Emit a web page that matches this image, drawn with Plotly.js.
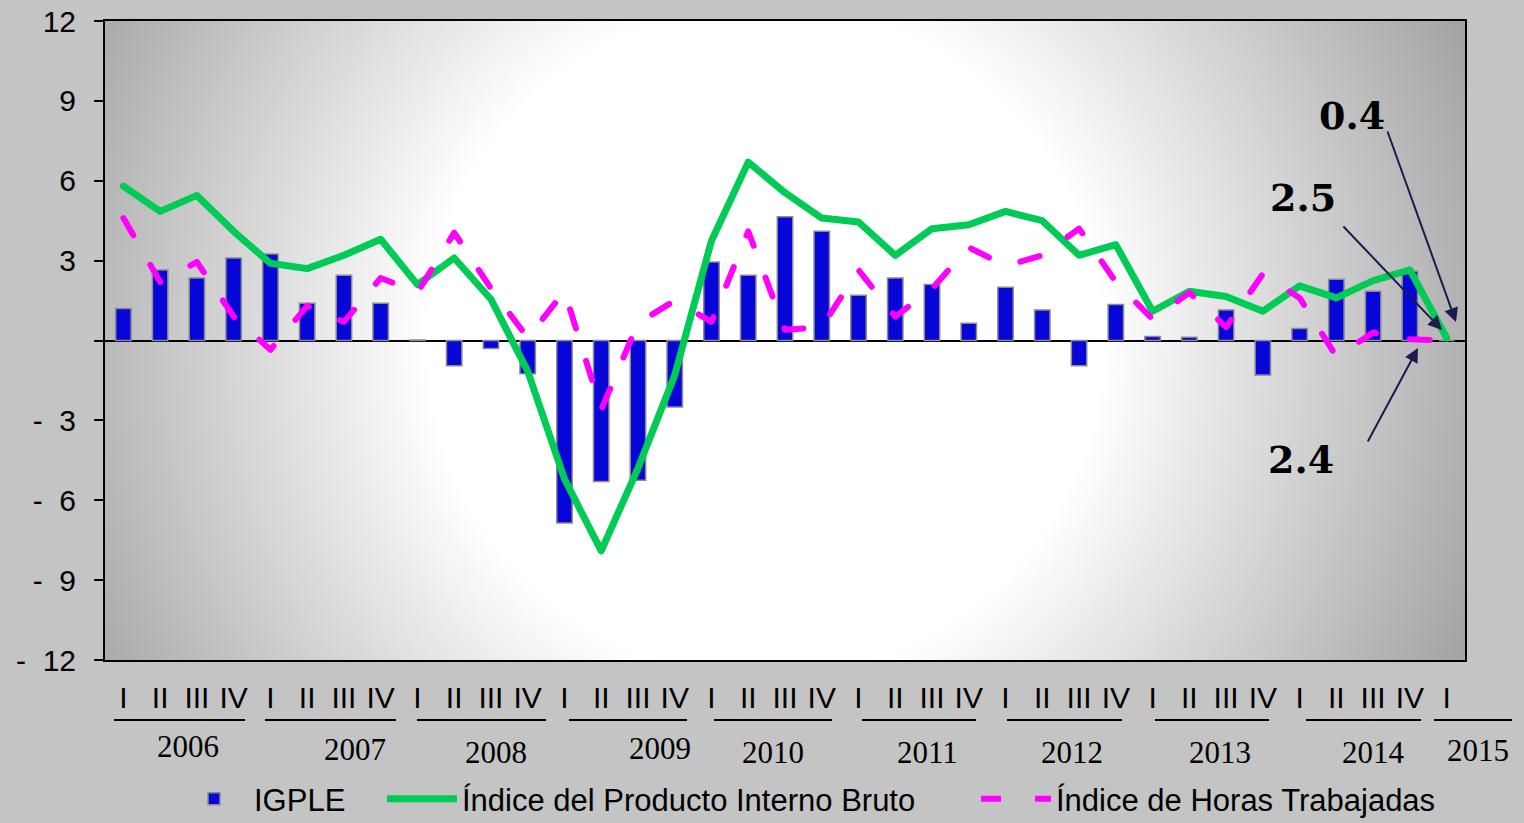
<!DOCTYPE html>
<html>
<head>
<meta charset="utf-8">
<script src="https://cdn.plot.ly/plotly-3.0.1.min.js"></script>
<style>
  html, body { margin: 0; padding: 0; background: #c4c4c4; }
  #chart { width: 1524px; height: 823px; }
  #chart .scatterlayer .js-line { stroke-linecap: round; stroke-linejoin: round; }
  #chart .legend .js-line { stroke-linecap: round; }
</style>
</head>
<body>
<div id="chart"></div>
<script>
// ---- data ----
const years = ['2006','2007','2008','2009','2010','2011','2012','2013','2014','2015'];
const quarters = ['I','II','III','IV'];
const igple = [1.2, 2.65, 2.35, 3.1, 3.25, 1.4, 2.45, 1.4, 0.02, -0.95, -0.3, -1.25,
               -6.85, -5.3, -5.25, -2.5, 2.95, 2.45, 4.65, 4.1, 1.7, 2.35, 2.1, 0.65,
               2.0, 1.15, -0.95, 1.35, 0.15, 0.12, 1.15, -1.3, 0.45, 2.3, 1.85, 2.6, 0.0];
const pib = [5.8, 4.85, 5.45, 4.1, 2.9, 2.7, 3.2, 3.8, 2.1, 3.1, 1.55, -1.15,
             -5.2, -7.9, -4.8, -1.3, 3.75, 6.7, 5.55, 4.6, 4.45, 3.2, 4.2, 4.35,
             4.85, 4.5, 3.2, 3.6, 1.1, 1.85, 1.65, 1.1, 2.05, 1.6, 2.25, 2.65, 0.1];
const horas = [4.6, 2.2, 2.95, 0.9, -0.35, 1.3, 0.7, 2.35, 1.8, 4.05, 1.95, 0.1,
               1.85, -2.6, 0.65, 1.5, 0.7, 4.1, 0.4, 0.5, 2.65, 0.9, 1.95, 3.5,
               2.8, 3.2, 4.2, 2.2, 0.8, 1.8, 0.5, 2.5, 1.6, -0.6, 0.3, 0.05, 0.0];
const yTickVals = [-12, -9, -6, -3, 0, 3, 6, 9, 12];
const yTickText = ['-\u00a0\u00a012', '-\u00a0\u00a09', '-\u00a0\u00a06', '-\u00a0\u00a03', '', '3', '6', '9', '12'];
const calloutTexts = ['0.4', '2.5', '2.4'];

// category labels built from years/quarters (2006 I .. 2015 I)
const xIdx = [], xText = [];
for (let i = 0; i < igple.length; i++) { xIdx.push(i); xText.push(quarters[i % 4]); }

// ---- layout helpers (pixel -> paper) ----
const W = 1524, H = 823, L = 105, R = 59, T = 21, B = 163;
const PW = W - L - R, PH = H - T - B;
const px = v => (v - L) / PW;
const py = v => (H - B - v) / PH;

const yearPos = [[188,746],[355,749],[496,752],[660,748],[773,752],[927,752],[1072,752],[1220,752],[1373,752],[1478,750]];
const yearLines = [[114,245],[265,396],[417,546],[569,687],[714,832],[862,976],[1007,1122],[1155,1269],[1306,1421],[1434,1512]];

const svgBg = "<svg xmlns='http://www.w3.org/2000/svg' width='1360' height='639'><defs>" +
  "<radialGradient id='g' gradientUnits='userSpaceOnUse' cx='660' cy='320' r='800'>" +
  "<stop offset='0' stop-color='#ffffff'/><stop offset='0.42' stop-color='#ffffff'/>" +
  "<stop offset='1' stop-color='#9c9c9c'/></radialGradient></defs>" +
  "<rect width='1360' height='639' fill='url(#g)'/></svg>";
const bgSrc = 'data:image/svg+xml;base64,' + btoa(svgBg);

const traces = [
  { type: 'bar', x: xIdx, y: igple, name: 'IGPLE', width: 0.42, legend: 'legend',
    marker: { color: '#0606d8', line: { color: '#8c8c8c', width: 1.5 } } },
  { type: 'scatter', mode: 'lines', x: xIdx, y: pib, name: 'Índice del Producto Interno Bruto',
    legend: 'legend2', line: { color: '#00cc55', width: 7 } },
  { type: 'scatter', mode: 'lines', x: xIdx, y: horas, name: 'Índice de Horas Trabajadas',
    legend: 'legend3', line: { color: '#ff00ff', width: 6, dash: '20px,34px' } }
];

const annotations = [];
years.forEach((yr, i) => {
  annotations.push({ xref: 'paper', yref: 'paper', x: px(yearPos[i][0]), y: py(yearPos[i][1]),
    text: yr, showarrow: false, xanchor: 'center', yanchor: 'middle',
    font: { family: 'Liberation Serif, Times New Roman, serif', size: 31, color: '#000' } });
});
const calloutPos = [[1352,115],[1303,197],[1301,459]];
const arrows = [[1456,322,1387,130],[1442,330,1342,225],[1418,348,1367,443]];
calloutTexts.forEach((t, i) => {
  annotations.push({ xref: 'paper', yref: 'paper', x: px(calloutPos[i][0]), y: py(calloutPos[i][1]),
    text: '<b>' + t + '</b>', showarrow: false, xanchor: 'center', yanchor: 'middle',
    font: { family: 'DejaVu Serif, Liberation Serif, serif', size: 38, color: '#000' } });
  const a = arrows[i];
  annotations.push({ xref: 'paper', yref: 'paper', x: px(a[0]), y: py(a[1]),
    ax: a[2] - a[0], ay: a[3] - a[1], text: '', showarrow: true,
    arrowhead: 2, arrowsize: 1.4, arrowwidth: 2, arrowcolor: '#1b1b4f' });
});

const shapes = yearLines.map(s => ({ type: 'line', xref: 'paper', yref: 'paper',
  x0: px(s[0]), x1: px(s[1]), y0: py(720), y1: py(720), line: { color: '#000', width: 2 } }));

const legendBase = (xPix) => ({ orientation: 'h', x: px(xPix), y: py(799), xanchor: 'left', yanchor: 'middle',
  bgcolor: 'rgba(0,0,0,0)', borderwidth: 0, itemwidth: 70,
  font: { size: 31, family: 'Liberation Sans, Arial, sans-serif', color: '#000' } });

const layout = {
  width: W, height: H,
  margin: { l: L, r: R, t: T, b: B, pad: 0, autoexpand: false },
  paper_bgcolor: '#c4c4c4', plot_bgcolor: '#ffffff',
  font: { family: 'Liberation Sans, Arial, sans-serif', color: '#000' },
  showlegend: true,
  legend: legendBase(174),
  legend2: legendBase(382),
  legend3: legendBase(976),
  xaxis: { range: [-0.5, 36.5], tickvals: xIdx, ticktext: xText, ticks: '',
    showline: true, linecolor: '#000', linewidth: 2, mirror: true, showgrid: false, zeroline: false,
    tickangle: 0, ticklabelstandoff: 10, automargin: false,
    tickfont: { family: 'Liberation Sans Narrow, Arial Narrow, Liberation Sans, sans-serif', size: 30 } },
  yaxis: { range: [-12, 12], tickvals: yTickVals, ticktext: yTickText, ticks: 'outside',
    ticklen: 9, tickwidth: 2, tickcolor: '#000', showline: true, linecolor: '#000', linewidth: 2,
    mirror: true, showgrid: false, zeroline: true, zerolinecolor: '#000', zerolinewidth: 2,
    ticklabelstandoff: 12, automargin: false, tickfont: { size: 30 } },
  bargap: 0.5,
  images: [{ source: bgSrc, xref: 'paper', yref: 'paper', x: 0, y: 1, sizex: 1, sizey: 1,
    sizing: 'stretch', layer: 'below', xanchor: 'left', yanchor: 'top' }],
  annotations: annotations,
  shapes: shapes
};

Plotly.newPlot('chart', traces, layout, { displayModeBar: false, staticPlot: true });
</script>
</body>
</html>
